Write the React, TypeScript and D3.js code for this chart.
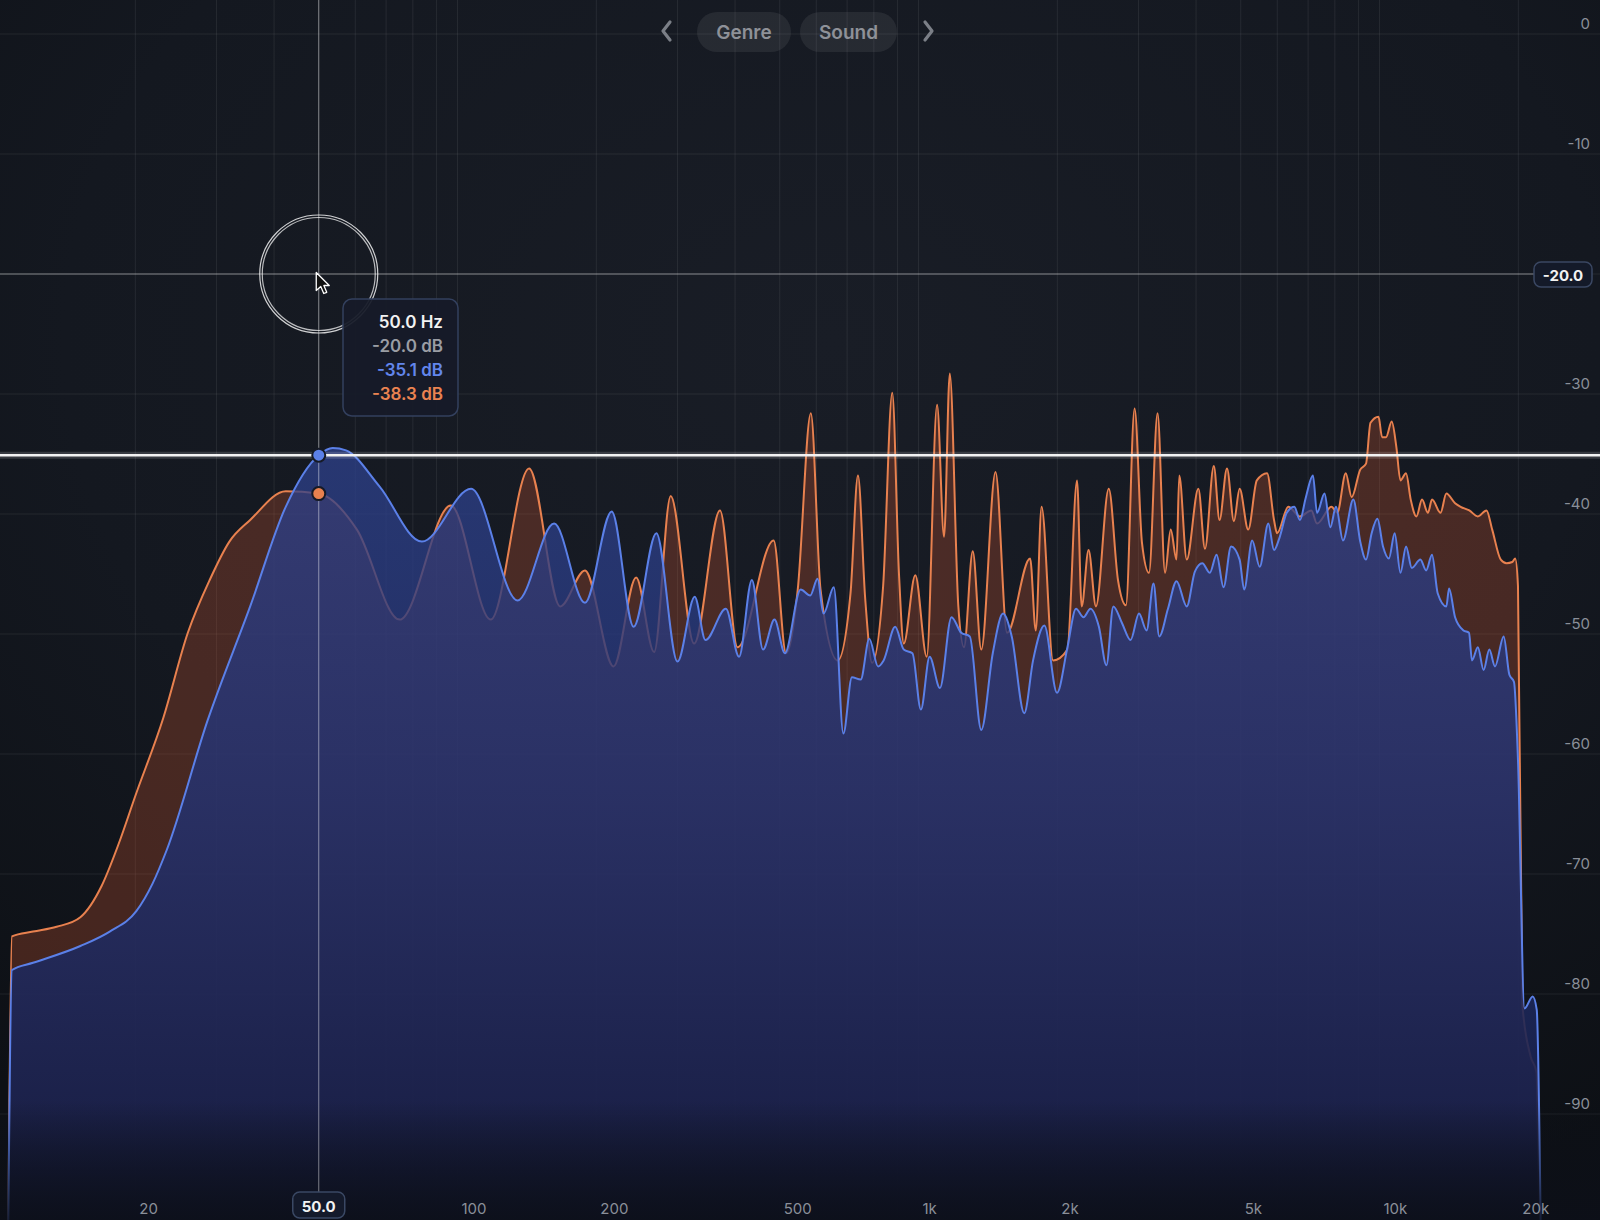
import * as d3 from "d3";

type Pt = [number, number];

// frequency (Hz) / level (dB)
const orangeSpectrum: Pt[] = [
  [10.6, -100], [10.8, -75.2], [12.0, -74.8], [13.5, -74.4], [15.2, -73.6], [16.9, -71.0],
  [18.4, -67.5], [20.0, -63.5], [23.0, -57], [26.0, -49.9], [29.0, -45.5], [32.0, -42.3],
  [35.5, -40.5], [42.4, -38.1], [50, -38.3], [60.5, -41.3], [74.9, -48.8], [96.7, -39.3],
  [118, -48.8], [143, -36.2], [167, -47.7], [189, -44.7], [218, -52.7], [244, -45.3],
  [267, -51.5], [290, -38.5], [326, -50.8], [371, -39.7], [405, -51.1], [485, -42.2],
  [516, -51.6], [547, -46.3], [584, -31.6], [613, -46.3], [668, -52.2], [712, -46.6],
  [739, -36.8], [766, -47], [793, -52.4], [838, -46], [877, -29.9], [907, -45], [929, -50.8],
  [984, -45.1], [1042, -51.9], [1097, -30.9], [1136, -41.9], [1169, -28.3], [1220, -47.7],
  [1255, -51.1], [1311, -43.1], [1368, -51.3], [1469, -36.5], [1556, -49.9], [1746, -43.7],
  [1796, -49.7], [1849, -39.4], [1958, -52.2], [2104, -51.3], [2207, -37.2], [2259, -47.7],
  [2338, -43], [2426, -47.7], [2586, -37.9], [2708, -45.5], [2818, -47.6], [2942, -31.2],
  [3053, -42.4], [3162, -44.9], [3300, -31.6], [3426, -44.9], [3524, -41.3], [3628, -43.8],
  [3678, -36.8], [3818, -43.8], [4046, -37.9], [4182, -42.9], [4370, -36], [4497, -40.5],
  [4668, -36.2], [4832, -40.6], [4972, -37.9], [5190, -41.3], [5418, -37.2], [5702, -36.6],
  [5904, -40.5], [5994, -41.6], [6342, -39.4], [6721, -40.2], [7115, -39.7], [7318, -40.8],
  [7866, -39.4], [8096, -39.9], [8450, -36.6], [8700, -38.6], [9082, -36.3], [9348, -35.8],
  [9560, -32.4], [9951, -31.9], [10128, -33.6], [10328, -33.6], [10628, -32.3], [10876, -34.4],
  [11102, -37.2], [11416, -36.6], [11686, -38.8], [12024, -40.2], [12364, -38.8], [12734, -39.9],
  [12998, -38.8], [13562, -39.9], [13962, -38.3], [14584, -39.1], [14996, -39.4], [15656, -39.7],
  [16342, -40.2], [17062, -39.7], [17556, -41.3], [18324, -43.8], [18864, -44.1], [19410, -44],
  [19694, -43.7], [19968, -46], [20414, -80.9], [21268, -85.2], [21900, -86.5], [22200, -100],
];

const blueSpectrum: Pt[] = [
  [10.6, -100], [10.8, -78], [12.0, -77.4], [15.2, -76], [17.6, -74.8], [20.1, -73.1],
  [21.8, -70.8], [23.4, -68], [28.7, -57.2], [35.5, -47.7], [42.4, -39.4], [50, -35.1],
  [53.6, -34.5], [57.3, -34.7], [67.7, -37.7], [83.7, -42.3], [107, -37.9], [135, -47.2],
  [162, -40.8], [189, -47.4], [216, -39.8], [241, -49.4], [270, -41.6], [300, -52.3],
  [327, -46.9], [345, -50.5], [382, -47.9], [408, -51.9], [435, -45.5], [460, -51.3],
  [487, -48.8], [513, -51.6], [555, -46.3], [582, -46.8], [604, -45.4], [622, -48.3],
  [655, -46.1], [687, -58.3], [717, -53.6], [749, -53.8], [782, -50.4], [817, -52.7],
  [840, -52.2], [890, -49.4], [929, -51.3], [970, -51.6], [1012, -56.3], [1057, -51.9],
  [1113, -54.5], [1179, -48.6], [1238, -49.9], [1292, -50.2], [1368, -58], [1449, -51.6],
  [1525, -48.3], [1593, -50.2], [1696, -56.6], [1772, -52.2], [1875, -49.3], [1997, -54.9],
  [2104, -51.1], [2196, -47.9], [2280, -48.6], [2360, -47.9], [2462, -49.4], [2556, -52.6],
  [2646, -47.7], [2764, -49.1], [2884, -50.5], [3008, -48.3], [3124, -49.7], [3234, -45.8],
  [3328, -50.2], [3476, -47.9], [3628, -45.6], [3818, -47.7], [3976, -44.8], [4126, -44.1],
  [4284, -44.9], [4432, -43.4], [4588, -46.1], [4764, -42.7], [4972, -43.8], [5086, -46.3],
  [5294, -42.2], [5496, -44.4], [5738, -40.8], [5904, -43], [6076, -41.9], [6292, -39.9],
  [6532, -39.4], [6721, -40.5], [6912, -38.7], [7172, -36.8], [7318, -39.9], [7598, -38.3],
  [7820, -41.1], [8046, -39.4], [8332, -42.2], [8774, -38.8], [9082, -42.3], [9348, -43.8],
  [9614, -41.6], [9896, -40.4], [10176, -42.7], [10480, -43.7], [10786, -41.6], [11102, -44.9],
  [11416, -42.7], [11750, -44.5], [12264, -43.8], [12624, -44.7], [12998, -43.4], [13370, -46.6],
  [13962, -47.7], [14152, -46.2], [14584, -48.6], [15208, -49.7], [15634, -49.9], [15870, -52.2],
  [16342, -51.1], [16818, -53], [17304, -51.3], [17802, -52.7], [18592, -50.2], [19130, -53.4],
  [19576, -54], [19968, -60.5], [20632, -81.2], [21492, -80.2], [21928, -81.3], [22380, -100],
];

const freqGrid = [
  20, 30, 40, 50, 60, 70, 80, 90, 100, 200, 300, 400, 500, 600, 700, 800, 900,
  1000, 2000, 3000, 4000, 5000, 6000, 7000, 8000, 9000, 10000, 20000,
];
const freqTicks = [20, 100, 200, 500, 1000, 2000, 5000, 10000, 20000];
const freqTickLabels = ["20", "100", "200", "500", "1k", "2k", "5k", "10k", "20k"];
const dbTicks = [0, -10, -20, -30, -40, -50, -60, -70, -80, -90];
const tabs = ["Genre", "Sound"];

// cursor readout
const cursorHz = 50;
const cursorDb = -20;
const blueAtCursor = -35.1;
const orangeAtCursor = -38.3;

const W = 1600;
const H = 1220;
const FONT = "Inter, 'Noto Sans', sans-serif";
const BLUE = "#5b80e8";
const ORANGE = "#e8814f";

export default function App() {
  const x = d3.scaleLog().domain([20, 20000]).range([135.3, 1518.3]);
  const y = d3.scaleLinear().domain([0, -90]).range([34, 1114]);

  const area = d3
    .area<Pt>()
    .x((d) => x(d[0]))
    .y0(H + 30)
    .y1((d) => y(d[1]))
    .curve(d3.curveMonotoneX);
  const line = d3
    .line<Pt>()
    .x((d) => x(d[0]))
    .y((d) => y(d[1]))
    .curve(d3.curveMonotoneX);

  const cx = x(cursorHz);
  const cy = y(cursorDb);
  const levelY = y(blueAtCursor);

  return (
    <div style={{ position: "absolute", left: 0, top: 0 }}>
      <svg width={W} height={H} style={{ display: "block" }} fontFamily={FONT}>
        <defs>
          <radialGradient id="bg" cx="52%" cy="28%" r="80%">
            <stop offset="0" stopColor="#191d26" />
            <stop offset="0.6" stopColor="#141820" />
            <stop offset="1" stopColor="#0d1015" />
          </radialGradient>
          <linearGradient id="blueFill" gradientUnits="userSpaceOnUse" x1="0" y1="440" x2="0" y2={H}>
            <stop offset="0" stopColor="rgb(46,66,142)" stopOpacity="0.74" />
            <stop offset="0.45" stopColor="rgb(36,50,112)" stopOpacity="0.84" />
            <stop offset="0.85" stopColor="rgb(24,33,78)" stopOpacity="0.92" />
            <stop offset="1" stopColor="rgb(15,21,46)" stopOpacity="0.96" />
          </linearGradient>
          <linearGradient id="bottomFade" x1="0" y1="0" x2="0" y2="1">
            <stop offset="0" stopColor="#0c0f18" stopOpacity="0" />
            <stop offset="1" stopColor="#0c0f18" stopOpacity="0.85" />
          </linearGradient>
        </defs>

        <rect width={W} height={H} fill="url(#bg)" />

        {/* grid */}
        <g stroke="#ffffff" strokeOpacity={0.075} strokeWidth={1}>
          {freqGrid.map((f) => (
            <line key={f} x1={x(f)} x2={x(f)} y1={0} y2={H} />
          ))}
          {dbTicks.map((d) => (
            <line key={d} x1={0} x2={W} y1={y(d)} y2={y(d)} />
          ))}
        </g>

        {/* spectra */}
        <path d={area(orangeSpectrum) ?? ""} fill="rgb(195,82,45)" fillOpacity={0.3} />
        <path d={line(orangeSpectrum) ?? ""} fill="none" stroke={ORANGE} strokeWidth={2} />
        <path d={area(blueSpectrum) ?? ""} fill="url(#blueFill)" />
        <path d={line(blueSpectrum) ?? ""} fill="none" stroke={BLUE} strokeWidth={2} />

        <rect y={1100} width={W} height={H - 1100} fill="url(#bottomFade)" />

        {/* crosshair */}
        <line x1={cx} x2={cx} y1={0} y2={1192} stroke="#ffffff" strokeOpacity={0.45} />
        <line x1={0} x2={1534} y1={cy} y2={cy} stroke="#ffffff" strokeOpacity={0.45} />

        {/* level line */}
        <line x1={0} x2={W} y1={levelY} y2={levelY} stroke="#ffffff" strokeOpacity={0.15} strokeWidth={7} />
        <line x1={0} x2={W} y1={levelY} y2={levelY} stroke="#f2f2f2" strokeWidth={2.5} />

        <circle cx={cx} cy={y(blueAtCursor)} r={6.5} fill={BLUE} stroke="#161a26" strokeWidth={2} />
        <circle cx={cx} cy={y(orangeAtCursor)} r={6.5} fill={ORANGE} stroke="#161a26" strokeWidth={2} />

        {/* top tabs */}
        <path d="M670,22 L663,31 L670,40" fill="none" stroke="#7b7f87" strokeWidth={3.2} strokeLinecap="round" strokeLinejoin="round" />
        <path d="M925,22 L932,31 L925,40" fill="none" stroke="#7b7f87" strokeWidth={3.2} strokeLinecap="round" strokeLinejoin="round" />
        {tabs.map((t, i) => {
          const x0 = i === 0 ? 697 : 800;
          const w = i === 0 ? 94 : 97;
          return (
            <g key={t}>
              <rect x={x0} y={12} width={w} height={40} rx={20} fill="#ffffff" fillOpacity={0.07} />
              <text x={x0 + w / 2} y={32} textAnchor="middle" dominantBaseline="central" fontSize={19} fontWeight={600} fill="#8e9198">
                {t}
              </text>
            </g>
          );
        })}

        {/* dB labels */}
        {dbTicks
          .filter((d) => d !== cursorDb)
          .map((d) => (
            <text key={d} x={1590} y={y(d) - 11} textAnchor="end" dominantBaseline="central" fontSize={15} fill="#8a8f99">
              {d}
            </text>
          ))}
        <rect x={1534} y={262} width={58} height={25} rx={7} fill="#141a29" stroke="#3a4762" strokeWidth={1.5} />
        <text x={1563} y={275} textAnchor="middle" dominantBaseline="central" fontSize={15} fontWeight={700} fill="#f2f2f2">
          {cursorDb.toFixed(1)}
        </text>

        {/* frequency labels */}
        {freqTicks.map((f, i) => (
          <text key={f} x={x(f) + 4} y={1208} dominantBaseline="central" fontSize={15} fill="#8a8f99">
            {freqTickLabels[i]}
          </text>
        ))}
        <rect x={cx - 26} y={1192} width={52} height={26} rx={7} fill="#141a2b" stroke="#3a4864" strokeWidth={1.5} />
        <text x={cx} y={1206} textAnchor="middle" dominantBaseline="central" fontSize={15} fontWeight={700} fill="#f2f2f2">
          {cursorHz.toFixed(1)}
        </text>

        {/* cursor ring + pointer */}
        <circle cx={cx} cy={cy} r={59} fill="none" stroke="#ffffff" strokeOpacity={0.8} strokeWidth={1.2} />
        <circle cx={cx} cy={cy} r={56.5} fill="none" stroke="#ffffff" strokeOpacity={0.7} strokeWidth={1.2} />
        <path
          d="M0,0 L0,18 L4.5,14 L7.5,21 L10.5,19.8 L7.6,13 L13,13 Z"
          transform={`translate(${cx - 2.5},${cy - 1.5})`}
          fill="#111"
          stroke="#fff"
          strokeWidth={1.3}
          strokeLinejoin="round"
        />

        {/* tooltip */}
        <rect x={343} y={299} width={115} height={117} rx={9} fill="#161b28" fillOpacity={0.94} stroke="#33405e" strokeWidth={1.5} />
        <g textAnchor="end" fontSize={17} fontWeight={600}>
          <text x={443} y={322} dominantBaseline="central" fill="#f2f2f2">{`${cursorHz.toFixed(1)} Hz`}</text>
          <text x={443} y={346} dominantBaseline="central" fill="#9a9da4">{`${cursorDb.toFixed(1)} dB`}</text>
          <text x={443} y={370} dominantBaseline="central" fill="#6286ec">{`${blueAtCursor.toFixed(1)} dB`}</text>
          <text x={443} y={394} dominantBaseline="central" fill="#ea8351">{`${orangeAtCursor.toFixed(1)} dB`}</text>
        </g>
      </svg>
    </div>
  );
}
